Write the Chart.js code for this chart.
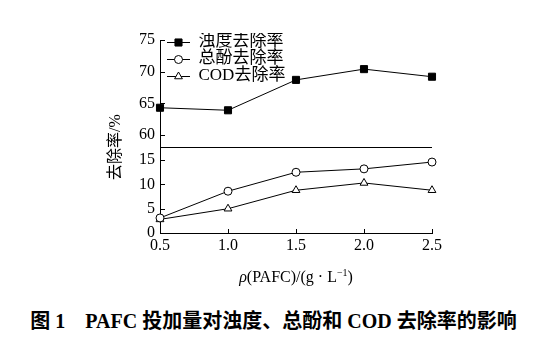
<!DOCTYPE html>
<html>
<head>
<meta charset="utf-8">
<script src="https://cdn.jsdelivr.net/npm/chart.js@4.4.0/dist/chart.umd.min.js"></script>
<style>
  body { margin: 0; background: #fff; }
  #wrap { position: relative; width: 537px; height: 337px; }
  #caption {
    position: absolute; left: 5px; top: 305px; width: 537px;
    text-align: center; color: #000; line-height: 24px;
    font: bold 20px "Liberation Serif", "Noto Sans CJK SC";
    white-space: nowrap;
  }
</style>
</head>
<body>
<div id="wrap">
  <canvas id="removalChart" width="537" height="300"></canvas>
  <div id="caption">图 1&emsp;PAFC 投加量对浊度、总酚和 COD 去除率的影响</div>
</div>
<script>
// PAFC dose (g/L) and removal rates (%)
const doses = [0.5, 1.0, 1.5, 2.0, 2.5];
const turbidity = [64.3, 63.9, 68.7, 70.4, 69.2];
const phenol = [3.1, 8.6, 12.5, 13.2, 14.6];
const cod = [2.8, 5.0, 8.8, 10.3, 8.8];
const seriesNames = ['浊度去除率', '总酚去除率', 'COD去除率'];
const upperTicks = [60, 65, 70, 75];
const lowerTicks = [0, 5, 10, 15];

const serif = '"Liberation Serif", "Noto Sans CJK SC"';
const tickFont = { family: serif, size: 16 };
const legendSize = 17;

// empty box that reserves room for the line+marker symbol
const symbolSlot = document.createElement('canvas');
symbolSlot.width = 30; symbolSlot.height = 11;

const markers = [
  { style: 'rect', radius: 5, fill: '#000' },
  { style: 'circle', radius: 4, fill: '#fff' },
  { style: 'triangle', radius: 4.5, fill: '#fff' }
];

function makeSet(i, values, axis) {
  return {
    label: seriesNames[i],
    data: values,
    yAxisID: axis,
    borderColor: '#000',
    borderWidth: 1,
    pointStyle: markers[i].style,
    pointRadius: markers[i].radius,
    pointBackgroundColor: markers[i].fill,
    pointBorderColor: '#000',
    pointBorderWidth: 1,
    tension: 0,
    clip: false
  };
}

function yScale(min, max, ticks, weight) {
  return {
    type: 'linear',
    position: 'left',
    stack: 'rate',
    stackWeight: weight,
    min: min,
    max: max,
    afterBuildTicks: s => { s.ticks = ticks.map(v => ({ value: v })); },
    afterFit: s => { s.width = 160; },
    grid: { drawOnChartArea: false, drawTicks: false },
    border: { color: '#000', width: 1 },
    ticks: { color: '#000', font: tickFont, padding: 5, autoSkip: false }
  };
}

// break line, inward tick marks, legend symbols and axis titles
const axisExtras = {
  id: 'axisExtras',
  afterLayout(chart) {
    chart.legend.top = chart.chartArea.top - 7;
  },
  afterDraw(chart) {
    const { ctx, chartArea: area, scales, legend } = chart;
    ctx.save();
    ctx.strokeStyle = '#000';
    ctx.lineWidth = 1;
    ctx.beginPath();
    const yb = Math.round(scales.yLow.top) + 0.5;
    ctx.moveTo(area.left, yb);
    ctx.lineTo(area.right, yb);
    scales.x.ticks.forEach((t, i) => {
      const px = Math.round(scales.x.getPixelForTick(i)) + 0.5;
      ctx.moveTo(px, area.bottom);
      ctx.lineTo(px, area.bottom - 4);
    });
    ['yLow', 'yTop'].forEach(id => {
      const s = scales[id];
      s.ticks.forEach((t, i) => {
        const py = Math.round(s.getPixelForTick(i)) + 0.5;
        ctx.moveTo(area.left, py);
        ctx.lineTo(area.left + 5, py);
      });
    });
    ctx.stroke();

    // legend symbols: line with marker, one per legend row
    markers.forEach((m, i) => {
      const cy = Math.round(legend.top + i * legendSize + legendSize / 2) + 0.5;
      const x0 = legend.left + 7;
      ctx.beginPath();
      ctx.moveTo(x0, cy);
      ctx.lineTo(x0 + 23, cy);
      ctx.stroke();
      ctx.fillStyle = m.fill;
      Chart.helpers.drawPoint(ctx, { pointStyle: m.style, radius: m.radius, borderWidth: 1 }, x0 + 11.5, cy);
    });

    ctx.fillStyle = '#000';
    ctx.textBaseline = 'middle';

    // y title
    ctx.save();
    ctx.translate(116, 147);
    ctx.rotate(-Math.PI / 2);
    ctx.textAlign = 'center';
    ctx.font = '16px ' + serif;
    ctx.fillText('去除率/%', 0, 0);
    ctx.restore();

    // x title: ρ(PAFC)/(g · L⁻¹)
    const parts = [
      { t: 'ρ', f: 'italic 16px ' + serif, dy: 0 },
      { t: '(PAFC)/(g · L', f: '16px ' + serif, dy: 0 },
      { t: '−1', f: '10px ' + serif, dy: -5 },
      { t: ')', f: '16px ' + serif, dy: 0 }
    ];
    let total = 0;
    parts.forEach(p => { ctx.font = p.f; p.w = ctx.measureText(p.t).width; total += p.w; });
    let x = (area.left + area.right) / 2 - total / 2;
    ctx.textAlign = 'left';
    parts.forEach(p => {
      ctx.font = p.f;
      ctx.fillText(p.t, x, 278 + p.dy);
      x += p.w;
    });
    ctx.restore();
  }
};

new Chart(document.getElementById('removalChart'), {
  type: 'line',
  data: {
    labels: doses.map(d => d.toFixed(1)),
    datasets: [
      makeSet(0, turbidity, 'yTop'),
      makeSet(1, phenol, 'yLow'),
      makeSet(2, cod, 'yLow')
    ]
  },
  options: {
    responsive: false,
    animation: false,
    layout: { padding: { left: 0, top: 40, right: 105, bottom: 0 } },
    scales: {
      x: {
        type: 'category',
        offset: false,
        grid: { drawOnChartArea: false, drawTicks: false },
        border: { color: '#000', width: 1 },
        ticks: { color: '#000', font: tickFont, padding: 3, maxRotation: 0, autoSkip: false },
        afterFit: s => { s.height = 67; }
      },
      yLow: yScale(0, 17.7, lowerTicks, 86),
      yTop: yScale(58.1, 75, upperTicks, 107)
    },
    plugins: {
      tooltip: { enabled: false },
      legend: {
        position: 'chartArea',
        align: 'start',
        labels: {
          color: '#000',
          font: { family: serif, size: legendSize },
          padding: 0,
          usePointStyle: true,
          pointStyleWidth: 30,
          generateLabels: chart => chart.data.datasets.map((ds, i) => ({
            text: ds.label,
            pointStyle: symbolSlot,
            fillStyle: '#000',
            strokeStyle: '#000',
            lineWidth: 0,
            hidden: false,
            datasetIndex: i,
            fontColor: '#000'
          }))
        }
      }
    }
  },
  plugins: [axisExtras]
});
</script>
</body>
</html>
